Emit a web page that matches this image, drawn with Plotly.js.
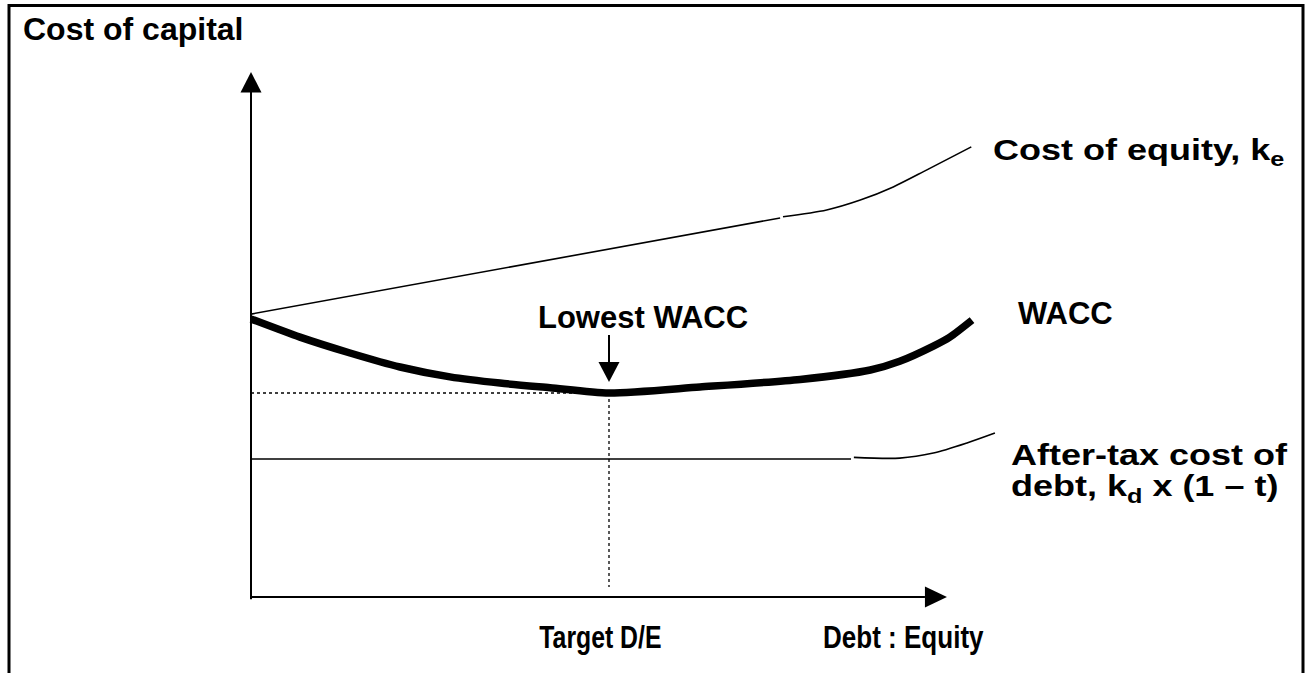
<!DOCTYPE html>
<html>
<head>
<meta charset="utf-8">
<script src="https://cdn.plot.ly/plotly-3.0.1.min.js"></script>
<style>
html,body{margin:0;padding:0;background:#fff;}
#chart{width:1308px;height:673px;}
</style>
</head>
<body>
<div id="chart"></div>
<script>
// ---- data (x: debt/equity ratio in %, y: cost of capital in %) ----
const equityLineX = [0, 73.9];
const equityLineY = [12.30, 16.48];
const equityCurveX = [74.3, 80.4, 85.1, 89.7, 94.4, 100.6];
const equityCurveY = [16.53, 16.83, 17.26, 17.83, 18.57, 19.57];

const waccX = [0, 6.84, 13.83, 20.81, 27.79, 34.78, 41.76, 50.0, 62.7, 76.7, 86.5, 90.6, 95.3, 97.6, 100.7];
const waccY = [12.09, 11.30, 10.61, 10.0, 9.57, 9.30, 9.10, 8.87, 9.13, 9.46, 9.87, 10.25, 10.91, 11.30, 12.04];

const debtLineX = [0, 83.8];
const debtLineY = [6.0, 6.0];
const debtCurveX = [84.2, 90.6, 95.3, 100.0, 103.9];
const debtCurveY = [6.07, 6.04, 6.26, 6.70, 7.13];

const targetDE = 50.0;
const lowestWACC = 8.87;
const axisXEnd = 97.2;   // x-axis arrow tip
const axisYEnd = 22.83;  // y-axis arrow tip
const dropLineBottom = 0.43;
const lowestArrowTop = 11.39;
const lowestArrowTip = 9.35;

const labels = {
  yTitle: 'Cost of capital',
  equity: 'Cost of equity, k<sub>e</sub>',
  wacc: 'WACC',
  lowest: 'Lowest WACC',
  debt: 'After-tax cost of<br>debt, k<sub>d</sub> x (1 \u2013 t)',
  target: 'Target D/E',
  xTitle: 'Debt : Equity'
};

// ---- drawing ----
const W = 1308, H = 673;
const pxPerX = 7.16, pxPerY = 23;
const x0 = -251 / pxPerX, x1 = x0 + W / pxPerX;
const y1 = 597 / pxPerY, y0 = y1 - H / pxPerY;
const toY = py => (597 - py) / pxPerY;   // helper for label placement
const toX = px => (px - 251) / pxPerX;

const ARIAL = 'Arial, "Liberation Sans", sans-serif';

const traces = [
  {x: equityLineX, y: equityLineY, mode: 'lines', line: {color: '#000', width: 1.6}, hoverinfo: 'skip'},
  {x: equityCurveX, y: equityCurveY, mode: 'lines', line: {color: '#000', width: 1.6, shape: 'spline', smoothing: 0.8}, hoverinfo: 'skip'},
  {x: debtLineX, y: debtLineY, mode: 'lines', line: {color: '#000', width: 1.6}, hoverinfo: 'skip'},
  {x: debtCurveX, y: debtCurveY, mode: 'lines', line: {color: '#000', width: 1.6, shape: 'spline', smoothing: 0.8}, hoverinfo: 'skip'},
  {x: waccX, y: waccY, mode: 'lines', line: {color: '#000', width: 7.5, shape: 'spline', smoothing: 0.7}, hoverinfo: 'skip'}
];

const shapes = [
  // frame
  {type: 'path', xref: 'paper', yref: 'paper',
   path: `M ${9/W},0 L ${9/W},${1-5.5/H} L ${1303/W},${1-5.5/H} L ${1303/W},0`,
   line: {color: '#000', width: 3}},
  // y axis
  {type: 'line', xref: 'x', yref: 'y', x0: 0, x1: 0, y0: -0.1, y1: axisYEnd - 20/pxPerY, line: {color: '#000', width: 2}},
  {type: 'path', xref: 'x', yref: 'y', xsizemode: 'pixel', ysizemode: 'pixel', xanchor: 0, yanchor: axisYEnd,
   path: 'M 0,0 L -10.5,-20.5 L 10.5,-20.5 Z', fillcolor: '#000', line: {color: '#000', width: 0}},
  // x axis
  {type: 'line', xref: 'x', yref: 'y', x0: -0.1, x1: axisXEnd - 22/pxPerX, y0: 0, y1: 0, line: {color: '#000', width: 2}},
  {type: 'path', xref: 'x', yref: 'y', xsizemode: 'pixel', ysizemode: 'pixel', xanchor: axisXEnd, yanchor: 0,
   path: 'M 0,0 L -22,-10.5 L -22,10.5 Z', fillcolor: '#000', line: {color: '#000', width: 0}},
  // dotted guide lines
  {type: 'line', xref: 'x', yref: 'y', x0: 0, x1: targetDE, y0: lowestWACC, y1: lowestWACC, line: {color: '#000', width: 1.3, dash: 'dot'}},
  {type: 'line', xref: 'x', yref: 'y', x0: targetDE, x1: targetDE, y0: lowestWACC, y1: dropLineBottom, line: {color: '#000', width: 1.3, dash: 'dot'}},
  // lowest WACC arrow
  {type: 'line', xref: 'x', yref: 'y', x0: targetDE, x1: targetDE, y0: lowestArrowTop, y1: lowestArrowTip + 19/pxPerY, line: {color: '#000', width: 2}},
  {type: 'path', xref: 'x', yref: 'y', xsizemode: 'pixel', ysizemode: 'pixel', xanchor: targetDE, yanchor: lowestArrowTip,
   path: 'M 0,0 L -10.5,20 L 10.5,20 Z', fillcolor: '#000', line: {color: '#000', width: 0}}
];

function lab(text, x, y, size, opts) {
  return Object.assign({
    text: text, x: x, y: y, xref: 'x', yref: 'y', showarrow: false,
    xanchor: 'left', yanchor: 'middle', borderpad: 0,
    font: {family: ARIAL, size: size, color: '#000', weight: 'bold'}
  }, opts || {});
}

// horizontal stretch of the label glyphs as in the reference (index -> factor)
const stretch = {1: {sx: 1.2, origin: 'left'}, 4: {sx: 1.2, origin: 'left', lineDy: '1.05em'},
                 5: {sx: 0.8, origin: 'center'}, 6: {sx: 0.84, origin: 'left'}};

const annotations = [
  lab(labels.yTitle, 22 / W, 1 - 29.5 / H, 32, {xref: 'paper', yref: 'paper'}),
  lab(labels.equity, toX(992), toY(151), 30),
  lab(labels.wacc, toX(1017), toY(313), 31),
  lab(labels.lowest, toX(537), toY(317), 31),
  lab(labels.debt, toX(1010), toY(437), 30, {yanchor: 'top', align: 'left'}),
  lab(labels.target, toX(600), toY(637), 31, {xanchor: 'center'}),
  lab(labels.xTitle, toX(822), toY(637), 31)
];

const layout = {
  width: W, height: H,
  margin: {l: 0, r: 0, t: 0, b: 0, pad: 0},
  paper_bgcolor: '#fff', plot_bgcolor: '#fff',
  showlegend: false,
  xaxis: {range: [x0, x1], visible: false, fixedrange: true},
  yaxis: {range: [y0, y1], visible: false, fixedrange: true},
  shapes: shapes,
  annotations: annotations
};

Plotly.newPlot('chart', traces, layout, {displayModeBar: false, staticPlot: true}).then(gd => {
  gd.querySelectorAll('g.annotation').forEach(g => {
    const i = +g.getAttribute('data-index');
    const cfg = stretch[i];
    if (!cfg) return;
    const t = g.querySelector('text.annotation-text');
    if (!t) return;
    if (cfg.lineDy) {
      const lines = t.querySelectorAll('tspan.line');
      for (let k = 1; k < lines.length; k++) lines[k].setAttribute('dy', cfg.lineDy);
    }
    const bb = t.getBBox();
    const ox = cfg.origin === 'center' ? bb.x + bb.width / 2 : bb.x;
    const prev = t.getAttribute('transform') || '';
    t.setAttribute('transform', `${prev} translate(${ox},0) scale(${cfg.sx},1) translate(${-ox},0)`);
  });
});
</script>
</body>
</html>
